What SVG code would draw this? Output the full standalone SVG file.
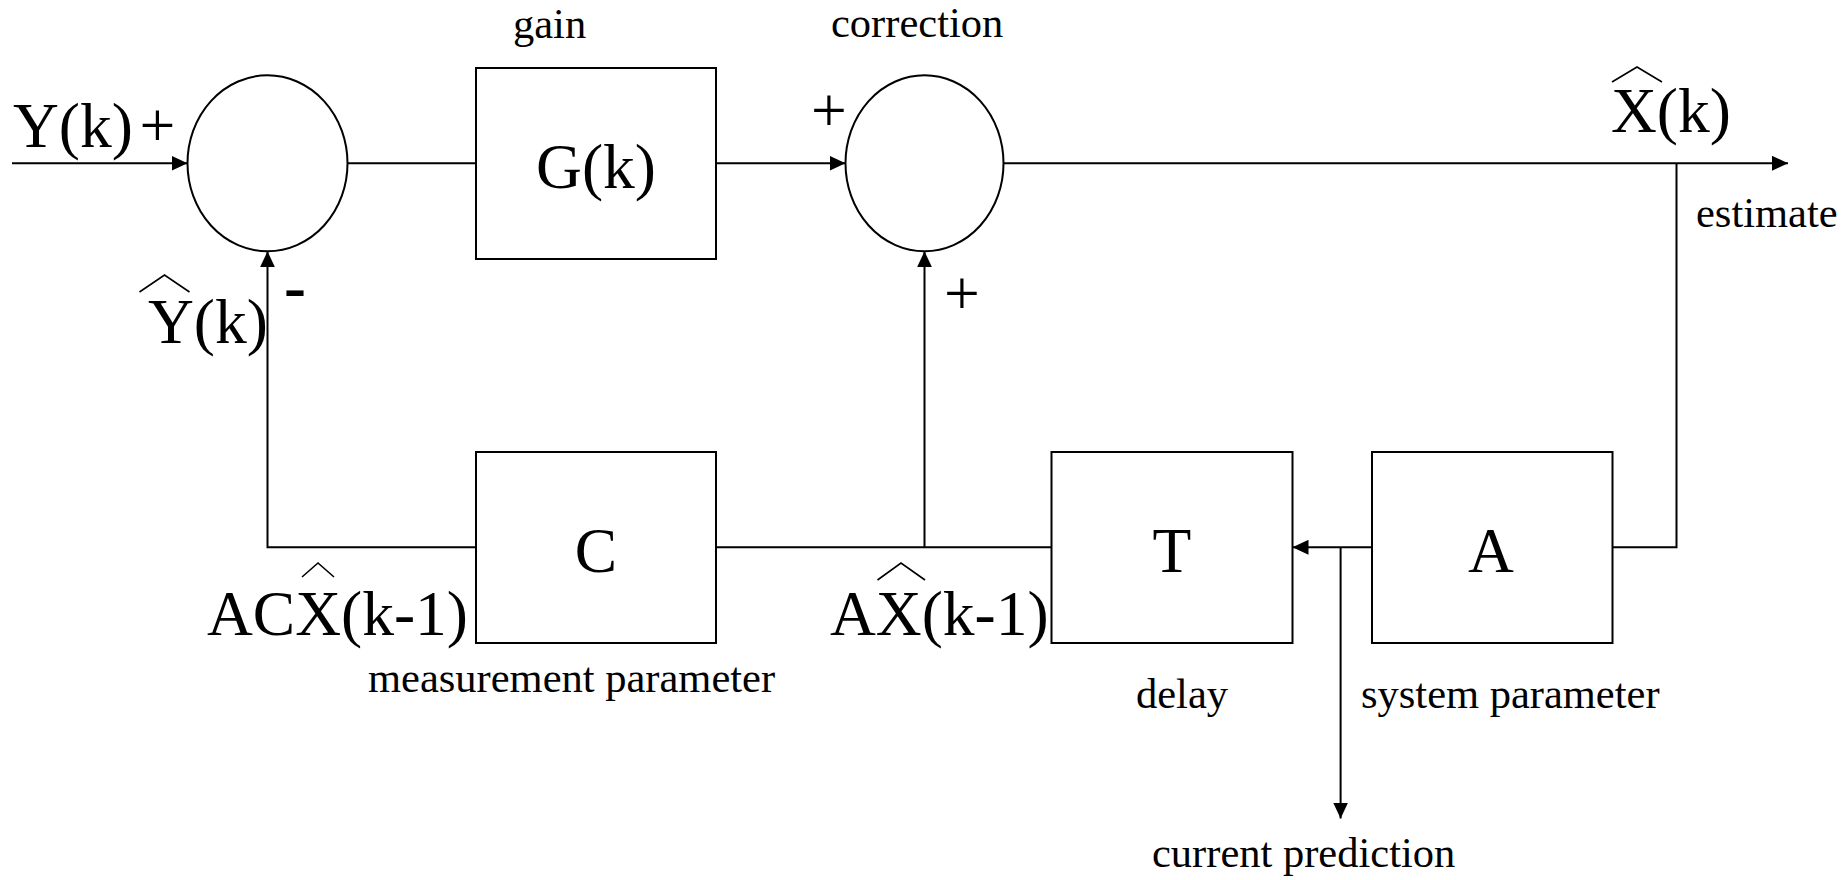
<svg xmlns="http://www.w3.org/2000/svg" width="1843" height="880" viewBox="0 0 1843 880">
<style>
.shape{fill:#fff;stroke:#000;stroke-width:2}
.wire{fill:none;stroke:#000;stroke-width:2}
.hat{fill:none;stroke:#000;stroke-width:1.6;stroke-linejoin:miter}
.big{font-family:"Liberation Serif","Times New Roman",serif;font-size:63.5px;fill:#000}
.small{font-family:"Liberation Serif","Times New Roman",serif;font-size:42.5px;fill:#000}
.mid{text-anchor:middle}
.minus{font-family:"Liberation Serif","Times New Roman",serif;font-size:66px;font-weight:bold;fill:#000}
</style>
<defs>
<marker id="arr" markerUnits="userSpaceOnUse" markerWidth="16" markerHeight="15" refX="16" refY="7.5" orient="auto">
<path d="M0,0 L16,7.5 L0,15 z" fill="#000"/>
</marker>
</defs>
<rect width="1843" height="880" fill="#fff"/>
<g id="connectors">
<line class="wire" x1="12" y1="163.3" x2="187.5" y2="163.3" marker-end="url(#arr)"/>
<line class="wire" x1="347.5" y1="163.3" x2="476" y2="163.3"/>
<line class="wire" x1="716" y1="163.3" x2="845.5" y2="163.3" marker-end="url(#arr)"/>
<line class="wire" x1="1003.5" y1="163.3" x2="1788" y2="163.3" marker-end="url(#arr)"/>
<polyline class="wire" points="1676.5,163.3 1676.5,547.3 1612.5,547.3"/>
<line class="wire" x1="1372" y1="547.3" x2="1292.5" y2="547.3" marker-end="url(#arr)"/>
<line class="wire" x1="1340.6" y1="547.3" x2="1340.6" y2="818.5" marker-end="url(#arr)"/>
<line class="wire" x1="1051.5" y1="547.3" x2="716" y2="547.3"/>
<line class="wire" x1="924.5" y1="547.3" x2="924.5" y2="251.3" marker-end="url(#arr)"/>
<polyline class="wire" points="476,547.3 267.5,547.3 267.5,251.3" marker-end="url(#arr)"/>
</g>
<g id="sum1">
<ellipse class="shape" cx="267.5" cy="163.3" rx="80" ry="88"/>
</g>
<g id="gain">
<rect class="shape" x="476" y="68" width="240" height="191"/>
<text class="big mid" x="596" y="188">G(k)</text>
<text class="small" x="513" y="38">gain</text>
</g>
<g id="sum2">
<ellipse class="shape" cx="924.5" cy="163.3" rx="79" ry="88"/>
<text class="small" x="831" y="37">correction</text>
</g>
<g id="C">
<rect class="shape" x="476" y="452" width="240" height="191"/>
<text class="big mid" x="596" y="572">C</text>
<text class="small" x="368" y="692">measurement parameter</text>
</g>
<g id="T">
<rect class="shape" x="1051.5" y="452" width="241" height="191"/>
<text class="big mid" x="1172" y="572">T</text>
<text class="small" x="1136" y="708">delay</text>
</g>
<g id="A">
<rect class="shape" x="1372" y="452" width="240.5" height="191"/>
<text class="big mid" x="1491" y="572">A</text>
<text class="small" x="1361" y="708">system parameter</text>
</g>
<g id="labels">
<text class="big" x="13" y="147">Y(k)</text>
<text class="big" x="139.5" y="147">+</text>
<text class="big" x="148" y="343">Y(k)</text>
<polyline class="hat" points="139.5,292 164.5,275 189.5,292"/>
<text class="minus" x="284" y="309">-</text>
<text class="big" x="811" y="132">+</text>
<text class="big" x="944" y="315">+</text>
<text class="big" x="1611" y="132">X(k)</text>
<polyline class="hat" points="1612,82 1637,67 1662,82"/>
<text class="small" x="1696" y="227">estimate</text>
<text class="big" x="207" y="635">ACX(k-1)</text>
<polyline class="hat" points="302,577 318,563 334,577"/>
<text class="big" x="830" y="635">AX(k-1)</text>
<polyline class="hat" points="877.5,580 901,563 925,580"/>
<text class="small" x="1152" y="867">current prediction</text>
</g>
</svg>
